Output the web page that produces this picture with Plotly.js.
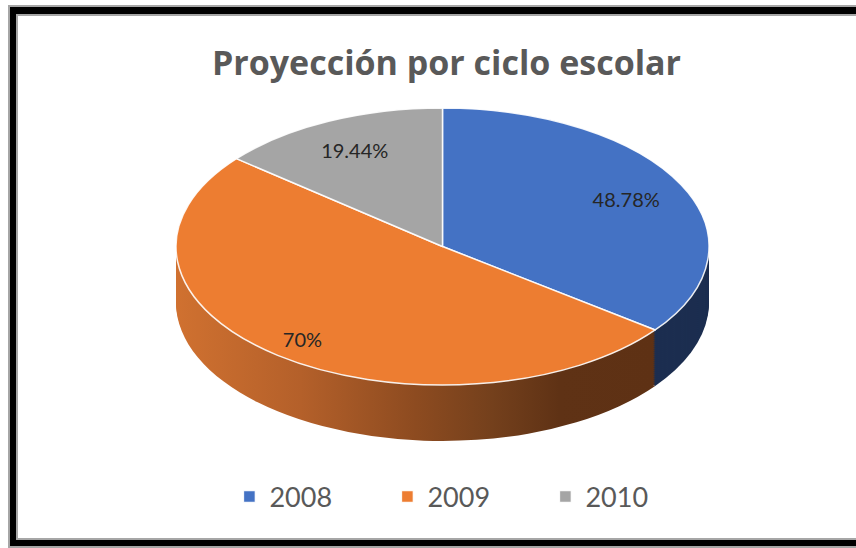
<!DOCTYPE html>
<html>
<head>
<meta charset="utf-8">
<script src="https://cdn.plot.ly/plotly-3.0.1.min.js"></script>
<style>
  html, body { margin: 0; padding: 0; background: #fff; }
  #wrap { position: relative; width: 856px; height: 548px; overflow: hidden; background: #fff; }
  #chart { position: absolute; left: 0; top: 0; width: 856px; height: 548px; }
  .frame { position: absolute; box-sizing: border-box; pointer-events: none; }
  #f1 { left: 8px; top: 5px; width: 900px; height: 543px; border: 2px solid #a6a6a6; }
  #f2 { left: 10px; top: 7px; width: 900px; height: 539px; border-style: solid; border-color: #000; border-width: 7px 0 6px 6px; }
  #f3 { left: 16px; top: 14px; width: 900px; height: 526px; border-style: solid; border-color: #a6a6a6; border-width: 2px 0 2px 2px; }
</style>
</head>
<body>
<div id="wrap">
  <div id="chart"></div>
  <div class="frame" id="f1"></div>
  <div class="frame" id="f2"></div>
  <div class="frame" id="f3"></div>
</div>
<script>
// ---- data ----
const years = ['2008', '2009', '2010'];
const values = [48.78, 70, 19.44];
const chartTitle = 'Proyección por ciclo escolar';

// ---- styles ----
const topColors = ['#4472C4', '#ED7D31', '#A5A5A5'];
const sideColors = ['#1c2e50', '#8d4b20', '#6b6b6b'];
const labelRadius = [0.77, 0.85, 0.77];

const gd = document.getElementById('chart');
const dom = { x: [176 / 856, 709 / 856], y: [0, 1] };

const topTrace = {
  type: 'pie', labels: years, values: values, sort: false,
  direction: 'clockwise', rotation: 0, domain: dom,
  marker: { colors: topColors, line: { color: 'rgba(255,255,255,0.9)', width: 1.5 } },
  texttemplate: '%{value}%', textposition: 'inside', insidetextorientation: 'horizontal',
  textfont: { family: 'Lato, "Open Sans", sans-serif', size: 20, color: '#262626' },
  hoverinfo: 'skip', showlegend: true
};
const sideTrace = {
  type: 'pie', labels: years, values: values, sort: false,
  direction: 'clockwise', rotation: 0, domain: dom,
  marker: { colors: sideColors, line: { width: 0 } },
  textinfo: 'none', hoverinfo: 'skip', showlegend: false
};

const layout = {
  width: 856, height: 548,
  margin: { l: 0, r: 0, t: 0, b: 0 },
  paper_bgcolor: '#ffffff', plot_bgcolor: '#ffffff',
  title: {
    text: chartTitle, x: 0.5216, xanchor: 'center', y: 0.885, yanchor: 'middle', yref: 'container',
    font: { family: '"Open Sans", Lato, sans-serif', size: 34, color: '#595959', weight: 'bold' }
  },
  showlegend: true,
  legend: {
    orientation: 'h', x: 0.268, xanchor: 'left', y: 0.093, yanchor: 'middle',
    entrywidth: 113, entrywidthmode: 'pixels', traceorder: 'normal',
    font: { family: 'Lato, "Open Sans", sans-serif', size: 27, color: '#595959' },
    bgcolor: 'rgba(0,0,0,0)'
  }
};

function fake3D() {
  const layer = gd.querySelector('.pielayer');
  const groups = Array.from(layer.children).filter(n => n.classList && n.classList.contains('trace'));
  const topG = groups[0], sideG = groups[1];
  const b = topG.getBBox();
  const cx = b.x + b.width / 2, cy = b.y + b.height / 2, r = b.width / 2;
  const TOPY = 246.5, RY = 138.5, DEPTH = 56;
  const k = RY / r;
  const tf = dy => 'translate(0,' + (TOPY + dy) + ') scale(1,' + k + ') translate(0,' + (-cy) + ')';

  // gradient for the front wall
  const svg = gd.querySelector('svg.main-svg');
  const NS = 'http://www.w3.org/2000/svg';
  let defs = svg.querySelector('defs');
  if (!defs) { defs = document.createElementNS(NS, 'defs'); svg.insertBefore(defs, svg.firstChild); }
  const grad = document.createElementNS(NS, 'linearGradient');
  grad.setAttribute('id', 'sideGrad');
  grad.setAttribute('x1', '0'); grad.setAttribute('x2', '1');
  grad.setAttribute('y1', '0'); grad.setAttribute('y2', '0');
  [[0, '#d07130'], [0.26, '#b4602a'], [0.5, '#8d4b20'], [0.66, '#74401c'], [0.8, '#5f3215'], [1, '#5e3114']]
    .forEach(s => {
      const st = document.createElementNS(NS, 'stop');
      st.setAttribute('offset', s[0]); st.setAttribute('stop-color', s[1]);
      grad.appendChild(st);
    });
  defs.appendChild(grad);

  const sidePaths = sideG.querySelectorAll('path.surface');
  if (sidePaths[1]) sidePaths[1].style.fill = 'url(#sideGrad)';
  sideG.setAttribute('transform', tf(DEPTH));
  for (let d = DEPTH - 2; d >= 1; d -= 2) {
    const c = sideG.cloneNode(true);
    c.setAttribute('transform', tf(d));
    layer.appendChild(c);
  }
  layer.appendChild(topG);

  topG.querySelectorAll('path.surface').forEach(p => {
    p.setAttribute('transform', tf(0));
    p.setAttribute('vector-effect', 'non-scaling-stroke');
  });

  const total = values.reduce((a, v) => a + v, 0);
  let cum = 0;
  topG.querySelectorAll('g.slice').forEach((s, i) => {
    const theta = 2 * Math.PI * (cum + values[i] / 2) / total;
    cum += values[i];
    const f = labelRadius[i];
    const tx = cx + r * f * Math.sin(theta);
    const ty = TOPY - r * f * Math.cos(theta) * k;
    const g = s.querySelector('g.slicetext');
    if (!g) return;
    const bb = g.getBBox();
    const old = g.getAttribute('transform') || '';
    g.setAttribute('transform', 'translate(' + (tx - (bb.x + bb.width / 2)) + ',' + (ty - (bb.y + bb.height / 2)) + ') ' + old);
  });
}

Plotly.newPlot(gd, [topTrace, sideTrace], layout, { staticPlot: true, displayModeBar: false }).then(fake3D);
</script>
</body>
</html>
